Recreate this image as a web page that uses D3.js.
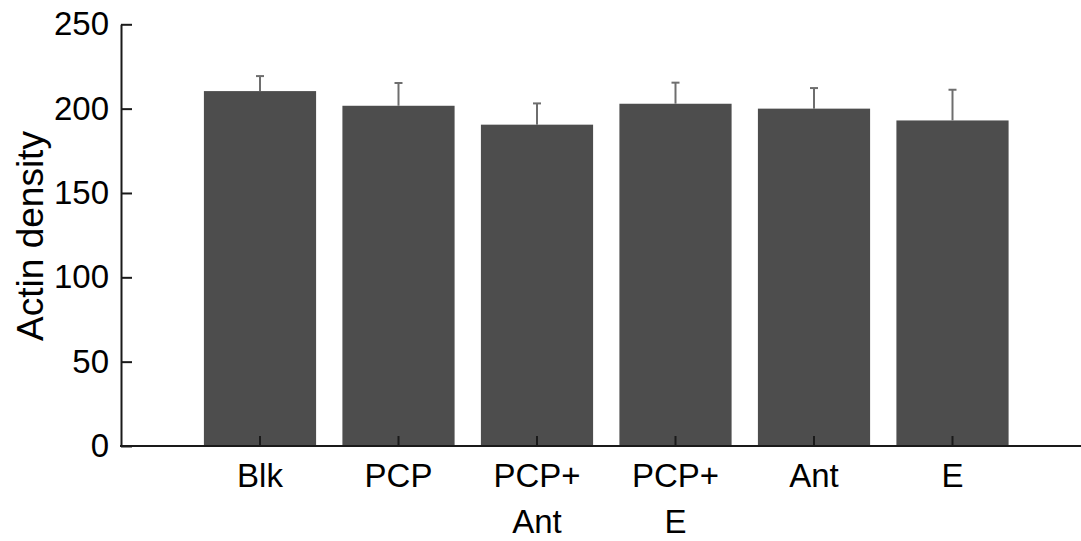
<!DOCTYPE html>
<html>
<head>
<meta charset="utf-8">
<script src="https://cdn.jsdelivr.net/npm/d3@7"></script>
<style>
  body { margin: 0; background: #fff; }
  svg { display: block; }
  text { font-family: "Liberation Sans", Arial, Helvetica, sans-serif; fill: #000; }
</style>
</head>
<body>
<div id="chart"></div>
<script>
// data
var groups = ["Blk", "PCP", "PCP+\nAnt", "PCP+\nE", "Ant", "E"];
var means = [210.4, 201.7, 190.5, 202.9, 200.0, 193.0];
var errs = [8.9, 13.5, 12.6, 12.5, 12.2, 18.2];
var yTicks = [0, 50, 100, 150, 200, 250];

var width = 1081, height = 541;
var axisX = 121, axisY = 446, topY = 24.3;

var svg = d3.select("#chart").append("svg")
    .attr("width", width).attr("height", height);

var x = d3.scaleBand().domain(groups)
    .range([190.75, 1021.75])
    .paddingInner(0.19).paddingOuter(0.095);
var y = d3.scaleLinear().domain([0, 250]).range([axisY, topY]);

// bars
svg.selectAll("rect.bar").data(groups).enter().append("rect")
    .attr("class", "bar")
    .attr("x", function(d) { return x(d); })
    .attr("width", x.bandwidth())
    .attr("y", function(d, i) { return y(means[i]); })
    .attr("height", function(d, i) { return y(0) - y(means[i]); })
    .attr("fill", "#4d4d4d");

// error bars (upper only)
var capW = 4;
groups.forEach(function(d, i) {
    var cx = x(d) + x.bandwidth() / 2;
    svg.append("line").attr("x1", cx).attr("x2", cx)
        .attr("y1", y(means[i])).attr("y2", y(means[i] + errs[i]))
        .attr("stroke", "#6e6e6e").attr("stroke-width", 2);
    svg.append("line").attr("x1", cx - capW).attr("x2", cx + capW)
        .attr("y1", y(means[i] + errs[i])).attr("y2", y(means[i] + errs[i]))
        .attr("stroke", "#6e6e6e").attr("stroke-width", 2);
});

// y axis
var yAxis = d3.axisLeft(y).tickValues(yTicks)
    .tickSizeInner(-11).tickSizeOuter(0).tickPadding(12);
var gy = svg.append("g").attr("transform", "translate(" + axisX + ",0)").call(yAxis);
gy.select(".domain").attr("stroke", "#1a1a1a").attr("stroke-width", 2);
gy.selectAll(".tick line").attr("stroke", "#1a1a1a").attr("stroke-width", 2);
gy.selectAll(".tick text").attr("font-size", "33px")
    .attr("font-family", "'Liberation Sans', Arial, sans-serif").attr("fill", "#000");

// x axis
var xAxis = d3.axisBottom(x).tickSizeInner(-10).tickSizeOuter(0).tickFormat("");
var gx = svg.append("g").attr("transform", "translate(0," + axisY + ")").call(xAxis);
gx.select(".domain").remove();
gx.selectAll(".tick line").attr("stroke", "#1a1a1a").attr("stroke-width", 2);
svg.append("line").attr("x1", axisX - 1).attr("x2", width)
    .attr("y1", axisY).attr("y2", axisY)
    .attr("stroke", "#1a1a1a").attr("stroke-width", 2);

// x labels, multi line
groups.forEach(function(d) {
    var t = svg.append("text")
        .attr("text-anchor", "middle")
        .attr("font-size", "33px")
        .attr("x", x(d) + x.bandwidth() / 2)
        .attr("y", axisY + 41);
    d.split("\n").forEach(function(line, k) {
        t.append("tspan")
            .attr("x", x(d) + x.bandwidth() / 2)
            .attr("dy", k === 0 ? 0 : 46)
            .text(line);
    });
});

// y label
svg.append("text")
    .attr("transform", "translate(43,236) rotate(-90)")
    .attr("text-anchor", "middle")
    .attr("font-size", "37px")
    .text("Actin density");
</script>
</body>
</html>
